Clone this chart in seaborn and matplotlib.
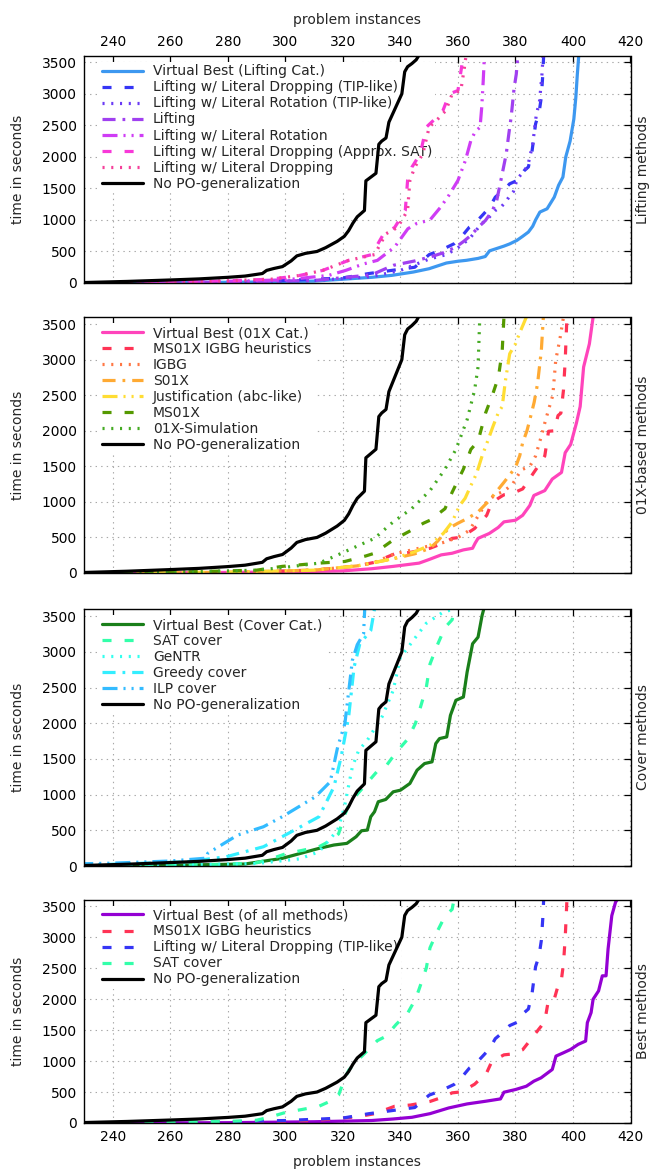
import matplotlib
matplotlib.use("Agg")
import matplotlib.pyplot as plt
import seaborn as sns

# ---------------- data ----------------
nopo_x = [228, 245, 260, 270, 280, 286, 292, 293.5, 296, 299, 302, 304, 307, 311, 314, 316, 318, 320.5, 322, 323.5,
          325, 327.5, 328, 331.5, 332.5, 333.5, 335, 336, 337.5, 339, 340.5, 341.5, 342.5, 344, 345.5, 346.3]
nopo_y = [5, 25, 48, 65, 90, 110, 150, 200, 230, 260, 350, 430, 470, 500, 560, 610, 660, 740, 830, 950,
          1050, 1150, 1620, 1740, 2200, 2250, 2300, 2550, 2700, 2850, 3000, 3350, 3430, 3480, 3540, 3600]

# Panel 1: lifting methods
vbl_x = [228, 260, 290, 310, 320, 330, 337, 344.5, 350, 356, 360, 363, 367, 369.5, 371, 374, 376, 378, 380.5, 382.5,
         384.5, 386, 387, 388.5, 391, 393.5, 395, 396.5, 397.5, 399, 400.3, 401, 401.5, 402]
vbl_y = [0, 5, 15, 30, 60, 90, 121, 174, 227, 317, 345, 360, 390, 420, 510, 555, 585, 620, 676, 740,
         808, 900, 1000, 1125, 1177, 1362, 1550, 1680, 2000, 2250, 2600, 2946, 3300, 3600]
ldtip_x = [228, 270, 300, 320, 329, 337, 345, 350, 354, 358.7, 361, 364, 366, 369, 371, 373, 376, 378, 380.6, 383,
           384.5, 385.8, 387, 388.2, 389, 389.5, 389.8]
ldtip_y = [0, 10, 40, 80, 150, 200, 250, 450, 520, 623, 720, 887, 950, 1098, 1200, 1362, 1480, 1573, 1626, 1780,
           1840, 2101, 2524, 2700, 2946, 3300, 3600]
lrtip_x = [228, 280, 310, 330, 340, 350, 356, 360, 364, 368, 371, 373, 375, 376.8, 378, 379.3, 380.6, 383.2, 384.5,
           386, 387.2, 388.4, 389.2, 389.6]
lrtip_y = [0, 15, 40, 100, 200, 380, 450, 560, 700, 930, 1050, 1150, 1204, 1300, 1380, 1450, 1650, 1785, 1900,
           2200, 2650, 2893, 3300, 3600]
lift_x = [228, 280, 310, 330, 337.5, 345, 350.3, 355, 359.3, 362, 364.5, 367, 369.6, 372, 373.5, 375.4, 376.8,
          377.8, 378.5, 379.5, 380.3, 380.8]
lift_y = [0, 15, 40, 130, 280, 350, 412, 480, 570, 660, 755, 880, 993, 1150, 1309, 1732, 2048, 2400, 2629, 3078,
          3316, 3600]
lr_x = [228, 270, 300, 315, 321, 327, 332, 338, 342.6, 345.5, 350.3, 354, 357, 360, 362.6, 364.5, 366, 367.7,
        368.3, 368.8, 369.2]
lr_y = [0, 15, 50, 120, 200, 300, 359, 570, 860, 940, 1000, 1204, 1400, 1626, 1943, 2260, 2400, 2471, 2800,
        3210, 3600]
ldsat_x = [228, 270, 295, 305, 313, 322, 330, 334.2, 338, 341.7, 342.5, 344, 346.9, 349, 352, 354.8, 357, 360,
           361.2, 361.8]
ldsat_y = [0, 20, 60, 120, 200, 359, 450, 781, 880, 1151, 1626, 1837, 2048, 2471, 2600, 2735, 2999, 3052,
           3400, 3600]
ld_x = [228, 270, 295, 305, 313, 322, 331, 335, 339, 342.5, 343.3, 345, 347.8, 350, 353, 355.8, 358, 361,
        362.2, 362.8]
ld_y = [0, 20, 60, 120, 200, 359, 450, 781, 880, 1151, 1626, 1837, 2048, 2471, 2600, 2735, 2999, 3052,
        3400, 3600]

# Panel 2: 01X-based methods
vb01_x = [228, 270, 300, 320, 330, 337.5, 346.5, 350, 354.2, 358, 361.9, 365.1, 366, 367, 370.9, 374, 376, 380,
          382.5, 385, 386.4, 390.2, 392.8, 396, 397.3, 399.2, 401.2, 402.5, 403.7, 405.7, 407]
vb01_y = [0, 5, 15, 30, 60, 93, 139, 190, 255, 278, 325, 348, 420, 487, 556, 640, 719, 742,
          811, 950, 1090, 1159, 1321, 1414, 1692, 1808, 2109, 2341, 2897, 3222, 3600]
msig_x = [228, 280, 310, 325, 331, 338, 343.5, 350.3, 355.5, 358, 360.6, 362.6, 365.8, 368.4, 370, 371.6, 374,
          376, 378.6, 382.5, 384.5, 386.4, 389, 390.2, 391.5, 393.5, 394.8, 395.8, 396.7, 397.3, 397.9]
msig_y = [0, 10, 40, 100, 150, 270, 290, 348, 430, 487, 500, 540, 626, 740, 811, 974, 1050,
          1100, 1113, 1182, 1300, 1414, 1566, 1646, 1993, 2000, 2214, 2248, 2573, 2990, 3600]
igbg_x = [228, 280, 310, 325, 331, 338, 343.5, 350, 355, 360, 364, 367, 370, 373, 376, 379, 382, 385, 387, 389,
          390.2, 391.5, 393, 394, 395.5, 396.7]
igbg_y = [0, 10, 40, 100, 150, 270, 320, 380, 430, 500, 600, 800, 1000, 1100, 1150, 1250, 1450, 1500, 1646,
          1924, 2109, 2295, 2500, 2990, 3300, 3600]
s01x_x = [228, 280, 310, 325, 337.5, 345, 350.3, 353, 356.7, 360, 363.2, 367, 370.9, 373.5, 376, 378, 380, 381.5,
          382.5, 384, 385, 386.5, 387.7, 389, 389.7]
s01x_y = [0, 10, 40, 100, 200, 270, 348, 450, 626, 700, 765, 858, 1020, 1150, 1275, 1380, 1484, 1650,
          1831, 2000, 2156, 2400, 2666, 3129, 3600]
just_x = [228, 280, 310, 325, 337.5, 345, 350.3, 355, 358, 360.6, 362.5, 364.5, 366.5, 368.4, 370.3, 372.2, 374,
          375.4, 376.5, 378, 380, 381.2, 383.8]
just_y = [0, 10, 40, 100, 200, 300, 390, 560, 719, 950, 1050, 1229, 1400, 1646, 1850, 2063, 2250,
          2341, 2700, 3083, 3222, 3350, 3600]
ms01x_x = [228, 260, 290, 298.9, 311.7, 320.7, 328, 331, 337.5, 343.9, 348, 350.3, 355.5, 358, 361.9, 364.5,
           367, 369.6, 372.2, 374.1, 375.4, 376]
ms01x_y = [0, 10, 40, 93, 139, 162, 240, 278, 464, 603, 700, 742, 904, 1136, 1460, 1738,
           1854, 2248, 2527, 2758, 3129, 3600]
sim_x = [228, 260, 290, 300, 311.7, 318, 324.6, 331, 337.5, 343.9, 350.3, 355.5, 359.3, 363.2, 365.8, 367, 367.6]
sim_y = [0, 10, 40, 80, 139, 250, 371, 487, 719, 904, 1159, 1460, 1738, 2156, 2573, 2897, 3600]

# Panel 3: cover methods
vbc_x = [228, 260, 286, 298.9, 305.3, 311.7, 316.9, 321.4, 324.6, 326.5, 328.5, 329.7, 331, 332.3, 334.9, 337.5,
         340, 343.3, 345.8, 348.4, 351, 352.3, 353.6, 356.1, 357.4, 359.3, 361.9, 363.2, 365.1, 367, 368.4, 369]
vbc_y = [0, 10, 28, 107, 177, 247, 294, 317, 410, 494, 503, 690, 760, 900, 932, 1039,
         1062, 1156, 1342, 1435, 1459, 1715, 1785, 1808, 2111, 2321, 2367, 2717, 3113, 3206, 3509, 3600]
sat_x = [228, 260, 280, 290, 295, 300, 306, 311.7, 316, 318.5, 320.5, 322, 324, 327.5, 332, 335, 338.5, 342.6,
         345.2, 346.5, 349, 350.3, 352.9, 355.5, 358, 358.6]
sat_y = [0, 10, 25, 45, 100, 170, 220, 270, 360, 450, 700, 850, 960, 1120, 1330, 1400, 1590, 1780,
         1995, 2160, 2500, 2830, 3100, 3340, 3450, 3600]
gentr_x = [228, 260, 290, 305, 311.7, 318.2, 320.5, 323.3, 325.5, 328.5, 333.6, 337.5, 340, 342.6, 345.2, 349,
           355, 359]
gentr_y = [0, 10, 35, 100, 200, 503, 820, 1389, 1620, 1761, 2088, 2460, 2926, 3060, 3200, 3400, 3560, 3600]
greedy_x = [228, 240, 266, 279.5, 292.4, 298.9, 305.3, 311.7, 316.9, 319.4, 322, 323.9, 325.9, 329.7, 331]
greedy_y = [15, 25, 60, 130, 270, 410, 550, 690, 1109, 1528, 2088, 2787, 3113, 3299, 3600]
ilp_x = [228, 240, 260, 272.5, 273, 283.4, 292.4, 298.9, 310.4, 315.6, 318.2, 320.7, 323.3, 325, 327.2, 327.6]
ilp_y = [30, 40, 70, 110, 177, 433, 550, 690, 969, 1179, 1668, 1994, 2880, 3100, 3252, 3600]

# Panel 4: best methods
vball_x = [228, 280, 310, 330, 337.5, 344, 350.3, 356.8, 363.2, 369.6, 374.8, 375.5, 376, 380, 383.8, 386.4, 388.9,
           392.8, 394.1, 396.7, 399.2, 401.8, 404.4, 405, 406.3, 407, 408.9, 410.2, 411.5, 412.2, 413.5, 414.8,
           415.3]
vball_y = [0, 5, 20, 40, 65, 92, 151, 243, 308, 351, 389, 450, 497, 540, 594, 675, 729,
           864, 1080, 1134, 1188, 1269, 1323, 1620, 1782, 1998, 2133, 2376, 2376, 2808, 3348, 3564,
           3600]

y_ticks = [0, 500, 1000, 1500, 2000, 2500, 3000, 3500]
x_ticks = [240, 260, 280, 300, 320, 340, 360, 380, 400, 420]
panel_titles = ["Lifting methods", "01X-based methods", "Cover methods", "Best methods"]

# ---------------- styles ----------------
SOLID = None
DASH = (6.5, 9.4)
DOT = (1.5, 4.8)
DASHDOT = (9.4, 5.0, 2.0, 5.0)
DASHDOTDOT = (10.8, 4.3, 1.5, 4.3, 1.5, 4.3)

panels = [
    [("Virtual Best (Lifting Cat.)", vbl_x, vbl_y, "#3d98f0", SOLID),
     ("Lifting w/ Literal Dropping (TIP-like)", ldtip_x, ldtip_y, "#3535f5", DASH),
     ("Lifting w/ Literal Rotation (TIP-like)", lrtip_x, lrtip_y, "#6a3af5", DOT),
     ("Lifting", lift_x, lift_y, "#a040f0", DASHDOT),
     ("Lifting w/ Literal Rotation", lr_x, lr_y, "#cf3cf5", DASHDOTDOT),
     ("Lifting w/ Literal Dropping (Approx. SAT)", ldsat_x, ldsat_y, "#f838d8", DASH),
     ("Lifting w/ Literal Dropping", ld_x, ld_y, "#f5409a", DOT),
     ("No PO-generalization", nopo_x, nopo_y, "#000000", SOLID)],
    [("Virtual Best (01X Cat.)", vb01_x, vb01_y, "#ff44bb", SOLID),
     ("MS01X IGBG heuristics", msig_x, msig_y, "#ff3355", DASH),
     ("IGBG", igbg_x, igbg_y, "#ff7744", DOT),
     ("S01X", s01x_x, s01x_y, "#ffaa33", DASHDOT),
     ("Justification (abc-like)", just_x, just_y, "#ffdd33", DASHDOTDOT),
     ("MS01X", ms01x_x, ms01x_y, "#559900", DASH),
     ("01X-Simulation", sim_x, sim_y, "#44aa22", DOT),
     ("No PO-generalization", nopo_x, nopo_y, "#000000", SOLID)],
    [("Virtual Best (Cover Cat.)", vbc_x, vbc_y, "#1a7f1a", SOLID),
     ("SAT cover", sat_x, sat_y, "#33ffaa", DASH),
     ("GeNTR", gentr_x, gentr_y, "#33ffee", DOT),
     ("Greedy cover", greedy_x, greedy_y, "#33eeff", DASHDOT),
     ("ILP cover", ilp_x, ilp_y, "#33bbff", DASHDOTDOT),
     ("No PO-generalization", nopo_x, nopo_y, "#000000", SOLID)],
    [("Virtual Best (of all methods)", vball_x, vball_y, "#9400d3", SOLID),
     ("MS01X IGBG heuristics", msig_x, msig_y, "#ff3355", DASH),
     ("Lifting w/ Literal Dropping (TIP-like)", ldtip_x, ldtip_y, "#3535f5", DASH),
     ("SAT cover", sat_x, sat_y, "#33ffaa", DASH),
     ("No PO-generalization", nopo_x, nopo_y, "#000000", SOLID)],
]

# axes rectangles in figure fractions (left, bottom, width, height)
W, H = 649, 1170
L, R = 84, 630.5
boxes = [(56, 283), (317, 573), (609, 866), (900, 1123)]

sns.set_style("white")
plt.rcParams["font.family"] = ["DejaVu Sans"]
plt.rcParams["lines.scale_dashes"] = False

fig = plt.figure(figsize=(W / 100, H / 100), dpi=100)
FS = 10

for i, (curves, (top, bot)) in enumerate(zip(panels, boxes)):
    ax = fig.add_axes([L / W, 1 - bot / H, (R - L) / W, (bot - top) / H])
    handles = []
    for name, xs, ys, col, dash in curves:
        sns.lineplot(x=xs, y=ys, ax=ax, estimator=None, sort=False, color=col,
                     linewidth=2.3, legend=False)
        ln = ax.lines[-1]
        ln.set_solid_joinstyle("round")
        if dash is not None:
            ln.set_dashes(dash)
            ln.set_dash_capstyle("butt")
        handles.append(ln)
    ax.set_xlim(230, 420)
    ax.set_ylim(0, 3600)
    ax.set_xticks(x_ticks)
    ax.set_yticks(y_ticks)
    ax.set_axisbelow(True)
    ax.grid(True, linestyle=(0, (1, 3)), color="#a8a8a8", linewidth=0.8)
    for sp in ax.spines.values():
        sp.set_color("black")
        sp.set_linewidth(1.0)
        sp.set_visible(True)
    ax.tick_params(direction="in", length=5, width=0.9, top=True, right=True,
                   labelsize=FS, colors="black", pad=5)
    if i == 0:
        ax.tick_params(labeltop=True, labelbottom=False)
        ax.set_xlabel("problem instances", fontsize=FS, labelpad=8)
        ax.xaxis.set_label_position("top")
    elif i == 3:
        ax.tick_params(labeltop=False, labelbottom=True)
        ax.set_xlabel("problem instances", fontsize=FS, labelpad=8)
    else:
        ax.tick_params(labeltop=False, labelbottom=False)
        ax.set_xlabel("")
    ax.set_ylabel("time in seconds", fontsize=FS)
    ax.yaxis.set_label_coords((25 - L) / (R - L), 0.5)
    ax.text((643 - L) / (R - L), 0.5, panel_titles[i], rotation=90, ha="center", va="center",
            fontsize=FS, transform=ax.transAxes)
    leg = ax.legend(handles=handles, labels=[c[0] for c in curves], loc="upper left",
                    bbox_to_anchor=(0.027, 0.975), borderaxespad=0, borderpad=0.2,
                    frameon=True, fancybox=False, framealpha=1, facecolor="white",
                    edgecolor="none", fontsize=FS, handlelength=2.95, handletextpad=0.75,
                    labelspacing=0.145)
    leg.set_zorder(1.5)

fig.savefig("out.png", dpi=100)
